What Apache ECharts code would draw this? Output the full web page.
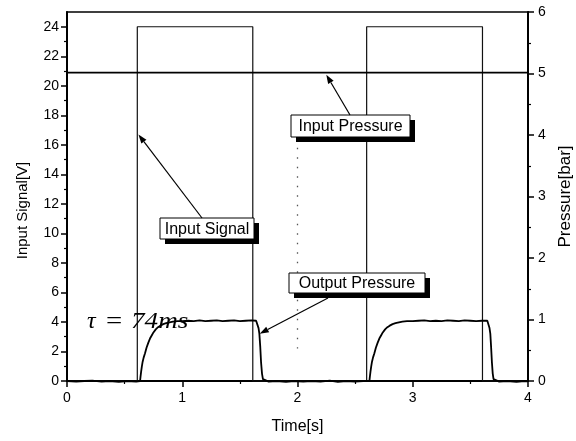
<!DOCTYPE html>
<html>
<head>
<meta charset="utf-8">
<script src="https://cdn.jsdelivr.net/npm/echarts@6/dist/echarts.min.js"></script>
<style>html,body{margin:0;padding:0;background:#fff;}#c{width:576px;height:441px;}</style>
</head>
<body>
<div id="c"></div>
<script>
// ---- data ----
var timeTicks = [0, 1, 2, 3, 4];
var signalTicks = [0, 2, 4, 6, 8, 10, 12, 14, 16, 18, 20, 22, 24];
var pressureTicks = [0, 1, 2, 3, 4, 5, 6];

// Input signal [V] (left axis): square pulses 0 -> 24 V
var inputSignal = [[0,0],[0.61,0],[0.61,24],[1.612,24],[1.612,0],[2.60,0],[2.60,24],[3.605,24],[3.605,0],[4,0]];

// Input pressure [bar] (right axis): flat ~5.015 bar with small downward spikes
var inputPressure = [
[0,5.015],[0.085,5.015],[0.09,4.985],[0.095,5.015],[0.215,5.015],[0.22,4.99],[0.225,5.015],
[0.345,5.015],[0.35,4.995],[0.355,5.015],[0.465,5.015],[0.47,4.985],[0.475,5.015],[0.545,5.015],[0.55,4.995],[0.555,5.015],
[0.695,5.015],[0.7,4.99],[0.705,5.015],[0.815,5.015],[0.82,4.995],[0.825,5.015],[0.945,5.015],[0.95,4.985],[0.955,5.015],
[1.045,5.015],[1.05,4.995],[1.055,5.015],[1.195,5.015],[1.2,4.99],[1.205,5.015],[1.295,5.015],[1.3,4.995],[1.305,5.015],
[1.445,5.015],[1.45,4.985],[1.455,5.015],[1.595,5.015],[1.6,4.99],[1.605,5.015],[1.715,5.015],[1.72,4.995],[1.725,5.015],
[1.845,5.015],[1.85,4.99],[1.855,5.015],[1.995,5.015],[2.0,4.995],[2.005,5.015],[2.095,5.015],[2.1,4.985],[2.105,5.015],
[2.245,5.015],[2.25,4.995],[2.255,5.015],[2.395,5.015],[2.4,4.99],[2.405,5.015],[2.545,5.015],[2.55,4.985],[2.555,5.015],
[2.695,5.015],[2.7,4.995],[2.705,5.015],[2.795,5.015],[2.8,4.99],[2.805,5.015],[2.945,5.015],[2.95,4.985],[2.955,5.015],
[3.095,5.015],[3.1,4.995],[3.105,5.015],[3.215,5.015],[3.22,4.985],[3.225,5.015],[3.345,5.015],[3.35,4.99],[3.355,5.015],
[3.495,5.015],[3.5,4.995],[3.505,5.015],[3.615,5.015],[3.62,4.985],[3.625,5.015],[3.745,5.015],[3.75,4.99],[3.755,5.015],
[3.875,5.015],[3.88,4.985],[3.885,5.015],[3.945,5.015],[3.95,4.995],[3.955,5.015],[4.0,5.015]];

// Output pressure [bar] (right axis): [time, pressure]
var outputPressure = [
[0,0],[0.08,-0.01],[0.15,0],[0.22,0.005],[0.3,-0.01],[0.37,0],[0.45,-0.015],[0.52,0],[0.6,-0.01],[0.634,0],
[0.638,0.07],[0.643,0.15],[0.649,0.23],[0.656,0.31],[0.665,0.38],[0.677,0.45],[0.69,0.54],[0.705,0.62],[0.72,0.69],[0.735,0.74],[0.75,0.79],[0.77,0.84],[0.79,0.875],[0.81,0.90],[0.835,0.925],[0.86,0.94],[0.89,0.955],[0.92,0.965],[0.96,0.972],
[1.0,0.975],[1.05,0.98],[1.1,0.975],[1.15,0.985],[1.2,0.975],[1.25,0.98],[1.3,0.985],[1.35,0.975],[1.4,0.98],[1.45,0.985],[1.5,0.975],[1.55,0.98],[1.6,0.985],[1.641,0.98],
[1.652,0.95],[1.662,0.86],[1.669,0.77],[1.677,0.55],[1.684,0.30],[1.692,0.12],[1.700,0.03],[1.708,0],
[1.75,-0.01],[1.82,0],[1.9,-0.015],[1.97,0],[2.05,-0.01],[2.12,0],[2.2,-0.01],[2.28,0.005],[2.35,-0.015],[2.42,0],[2.5,-0.01],[2.57,0],[2.624,0],
[2.628,0.07],[2.633,0.15],[2.639,0.23],[2.646,0.31],[2.655,0.38],[2.667,0.45],[2.68,0.54],[2.695,0.62],[2.71,0.69],[2.725,0.74],[2.74,0.79],[2.76,0.84],[2.78,0.875],[2.80,0.90],[2.825,0.925],[2.85,0.94],[2.88,0.955],[2.91,0.965],[2.95,0.972],
[3.0,0.975],[3.05,0.98],[3.1,0.985],[3.15,0.975],[3.2,0.98],[3.25,0.975],[3.3,0.985],[3.35,0.98],[3.4,0.975],[3.45,0.985],[3.5,0.98],[3.55,0.975],[3.6,0.98],[3.647,0.98],
[3.657,0.95],[3.666,0.86],[3.673,0.77],[3.680,0.55],[3.687,0.30],[3.694,0.12],[3.701,0.03],[3.708,0],
[3.75,-0.01],[3.82,0],[3.9,-0.015],[3.97,0],[4.0,-0.005]];

// dotted guide at t = 2 s (left-axis units)
var guideLine = [[2, 15.8], [2, 2.2]];

// annotations: label text and arrow tip in data coordinates
var annoTexts = ['Input Pressure', 'Input Signal', 'Output Pressure'];
var annoTips = [[2.25, 4.98], [0.62, 16.7], [1.672, 0.77]];
var annoTipAxis = [1, 0, 1];
var tauParts = ['τ', '=', '74ms'];

// ---- chart ----
var FONT = 'Liberation Sans, Arial, sans-serif';
var SERIF = '"Liberation Serif", "Times New Roman", serif';
var chart = echarts.init(document.getElementById('c'), null, {renderer: 'canvas'});

var option = {
  animation: false,
  backgroundColor: '#fff',
  grid: {left: 67, right: 48, top: 12, bottom: 60, containLabel: false, outerBoundsMode: 'none',
         show: true, borderColor: '#000', borderWidth: 1.5, backgroundColor: 'transparent'},
  xAxis: {
    type: 'value', min: 0, max: 4, interval: 1,
    axisLine: {show: true, onZero: false, lineStyle: {color: '#000', width: 2}},
    axisTick: {show: true, length: 6, lineStyle: {color: '#000', width: 1.5}},
    minorTick: {show: true, splitNumber: 2, length: 3, lineStyle: {color: '#000', width: 1.2}},
    splitLine: {show: false},
    axisLabel: {color: '#000', fontSize: 14, fontFamily: FONT, margin: 10, customValues: timeTicks},
    name: 'Time[s]', nameLocation: 'middle', nameGap: 38,
    nameTextStyle: {color: '#000', fontSize: 16, fontFamily: FONT}
  },
  yAxis: [{
    type: 'value', min: 0, max: 25, interval: 2, position: 'left',
    axisLine: {show: true, onZero: false, lineStyle: {color: '#000', width: 2}},
    axisTick: {show: true, length: 6, lineStyle: {color: '#000', width: 1.5}, customValues: signalTicks},
    minorTick: {show: true, splitNumber: 2, length: 3, lineStyle: {color: '#000', width: 1.2}},
    splitLine: {show: false},
    axisLabel: {color: '#000', fontSize: 14, fontFamily: FONT, margin: 8, customValues: signalTicks},
    name: 'Input Signal[V]', nameLocation: 'middle', nameGap: 37,
    nameTextStyle: {color: '#000', fontSize: 15, fontFamily: FONT, padding: [0, 28, 0, 0]}
  }, {
    type: 'value', min: 0, max: 6, interval: 1, position: 'right',
    axisLine: {show: true, onZero: false, lineStyle: {color: '#000', width: 2}},
    axisTick: {show: true, length: 6, lineStyle: {color: '#000', width: 1.5}},
    minorTick: {show: true, splitNumber: 2, length: 3, lineStyle: {color: '#000', width: 1.2}},
    splitLine: {show: false},
    axisLabel: {color: '#000', fontSize: 14, fontFamily: FONT, margin: 10, customValues: pressureTicks},
    name: 'Pressure[bar]', nameLocation: 'middle', nameGap: 24,
    nameTextStyle: {color: '#000', fontSize: 17, fontFamily: FONT}
  }],
  series: [{
    name: 'Input Signal', type: 'line', yAxisIndex: 0, data: inputSignal,
    showSymbol: false, symbol: 'none', lineStyle: {color: '#111', width: 1.2}, clip: false, z: 3
  }, {
    name: 'Input Pressure', type: 'line', yAxisIndex: 1, data: inputPressure,
    showSymbol: false, symbol: 'none', lineStyle: {color: '#000', width: 1.8}, clip: false, z: 4
  }, {
    name: 'Output Pressure', type: 'line', yAxisIndex: 1, data: outputPressure,
    showSymbol: false, symbol: 'none', lineStyle: {color: '#000', width: 1.8}, clip: false, z: 4
  }, {
    name: 'guide', type: 'line', yAxisIndex: 0, data: guideLine,
    showSymbol: false, symbol: 'none', lineStyle: {color: '#555', width: 1.3, type: [1.5, 8]}, z: 2
  }]
};
chart.setOption(option);

// ---- annotation boxes with drop shadows and arrows ----
var boxes = [[291, 115, 119, 22], [160, 218, 94, 21], [289, 273, 136, 20]];
var tails = [[350, 115], [202, 218], [328, 298]];
var graphics = [];
annoTexts.forEach(function (txt, i) {
  var b = boxes[i];
  graphics.push({type: 'rect', shape: {x: b[0] + 5, y: b[1] + 5, width: b[2], height: b[3]}, style: {fill: '#000'}, z: 100});
  graphics.push({type: 'rect', shape: {x: b[0], y: b[1], width: b[2], height: b[3]}, style: {fill: '#fff', stroke: '#000', lineWidth: 1}, z: 101});
  graphics.push({type: 'text', x: b[0] + b[2] / 2, y: b[1] + b[3] / 2 + 1, style: {text: txt, font: '16px ' + FONT, fill: '#000', align: 'center', verticalAlign: 'middle'}, z: 102});
  var tip = chart.convertToPixel({xAxisIndex: 0, yAxisIndex: annoTipAxis[i]}, annoTips[i]);
  var t = tails[i];
  var dx = tip[0] - t[0], dy = tip[1] - t[1], L = Math.sqrt(dx * dx + dy * dy);
  var ux = dx / L, uy = dy / L, hl = 9, hw = 3.2;
  var bx = tip[0] - ux * hl, by = tip[1] - uy * hl;
  graphics.push({type: 'line', shape: {x1: t[0], y1: t[1], x2: bx, y2: by}, style: {stroke: '#000', lineWidth: 1.2}, z: 103});
  graphics.push({type: 'polygon', shape: {points: [[tip[0], tip[1]], [bx - uy * hw, by + ux * hw], [bx + uy * hw, by - ux * hw]]}, style: {fill: '#000'}, z: 103});
});
// tau annotation (math-style spacing)
graphics.push({type: 'text', x: 87, y: 310, style: {text: tauParts[0], font: 'italic 24px ' + SERIF, fill: '#000', verticalAlign: 'alphabetic'}, z: 104});
graphics.push({type: 'text', x: 106, y: 310, scaleX: 1.25, style: {text: tauParts[1], font: '23px ' + SERIF, fill: '#000', verticalAlign: 'alphabetic'}, z: 104});
graphics.push({type: 'text', x: 131, y: 310, scaleX: 1.18, style: {text: tauParts[2], font: 'italic 23px ' + SERIF, fill: '#000', verticalAlign: 'alphabetic'}, z: 104});
chart.setOption({graphic: graphics});
</script>
</body>
</html>
